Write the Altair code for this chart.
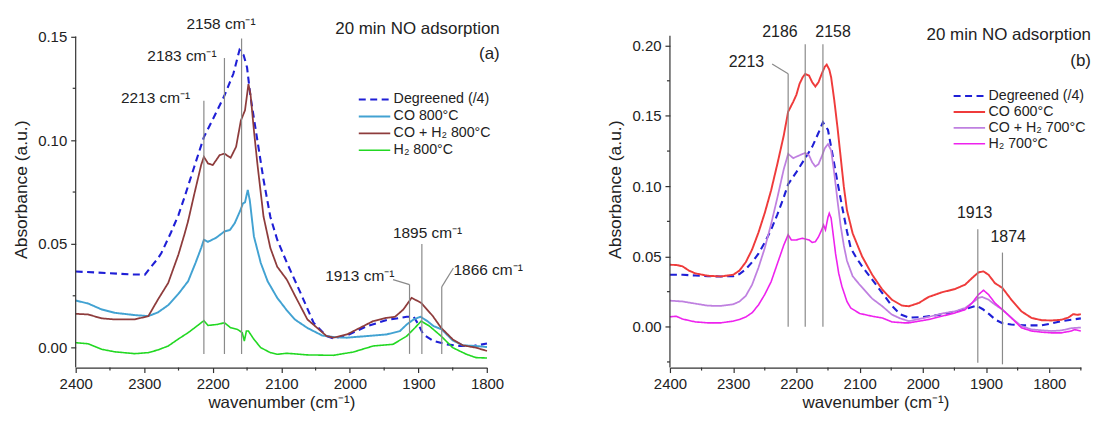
import altair as alt
import pandas as pd

FONT = "Liberation Sans"

# ---------------- Panel (a) data ----------------
series_a = ["Degreened (/4)", "CO 800°C", "CO + H₂ 800°C", "H₂ 800°C"]
colors_a = ["#1f1fd6", "#42a2d2", "#8e3c3c", "#22d822"]

deg_a_wn = [2400, 2350, 2320, 2299, 2290, 2280, 2275, 2261, 2250, 2241, 2227, 2213, 2200, 2183,
            2170, 2161, 2155, 2150, 2145, 2135, 2126, 2116, 2106, 2092, 2072, 2053, 2034, 2024,
            2004, 1975, 1946, 1917, 1907, 1900, 1893, 1878, 1859, 1840, 1820, 1800]
deg_a_ab = [0.0367, 0.0359, 0.0353, 0.0352, 0.039, 0.043, 0.0456, 0.0555, 0.064, 0.0728, 0.0872,
            0.1015, 0.110, 0.1215, 0.132, 0.1435, 0.141, 0.135, 0.121, 0.100, 0.081, 0.063, 0.052,
            0.041, 0.0264, 0.012, 0.0056, 0.0045, 0.0059, 0.0104, 0.0133, 0.0149, 0.0149, 0.0112,
            0.0064, 0.0032, 0.0016, 0.0008, 0.0008, 0.002]

co_a_wn = [2400, 2382, 2362, 2343, 2314, 2294, 2280, 2265, 2250, 2236, 2225, 2217, 2213, 2207,
           2195, 2183, 2175, 2168, 2160, 2156, 2153, 2149, 2146, 2140, 2130, 2120, 2106, 2092,
           2080, 2062, 2040, 2020, 2004, 1975, 1946, 1927, 1917, 1907, 1897, 1887, 1878, 1866,
           1850, 1835, 1816, 1800]
co_a_ab = [0.0227, 0.0213, 0.0184, 0.0168, 0.0157, 0.0152, 0.017, 0.0205, 0.026, 0.032, 0.041,
           0.048, 0.052, 0.051, 0.053, 0.056, 0.0567, 0.060, 0.066, 0.0695, 0.070, 0.076, 0.071,
           0.0536, 0.0408, 0.032, 0.024, 0.018, 0.0135, 0.0095, 0.0058, 0.005, 0.0048, 0.0056,
           0.0064, 0.008, 0.0112, 0.0136, 0.0149, 0.0128, 0.0104, 0.0088, 0.0035, 0.0011,
           0.0008, 0.0003]

coh_a_wn = [2400, 2382, 2362, 2343, 2314, 2294, 2280, 2265, 2250, 2241, 2236, 2227, 2217, 2213,
            2207, 2200, 2190, 2183, 2174, 2166, 2159, 2153, 2148, 2145, 2140, 2135, 2126, 2116,
            2106, 2092, 2080, 2062, 2034, 2024, 2004, 1985, 1966, 1946, 1934, 1922, 1910, 1896,
            1879, 1867, 1850, 1835, 1816, 1800]
coh_a_ab = [0.0163, 0.016, 0.0141, 0.0136, 0.0136, 0.0152, 0.0232, 0.0312, 0.045, 0.055, 0.061,
            0.074, 0.088, 0.092, 0.0888, 0.088, 0.0928, 0.0935, 0.0915, 0.0968, 0.1095, 0.1144,
            0.127, 0.1223, 0.1047, 0.0888, 0.0632, 0.048, 0.039, 0.0328, 0.025, 0.0136, 0.0056,
            0.0048, 0.0064, 0.0096, 0.0128, 0.0144, 0.0149, 0.0184, 0.024, 0.0216, 0.0152,
            0.0096, 0.004, 0.0011, 0.0, -0.0016]

h2_a_wn = [2400, 2382, 2362, 2343, 2314, 2294, 2280, 2265, 2251, 2236, 2222, 2213, 2207, 2193,
           2183, 2174, 2164, 2157, 2154, 2151, 2148, 2140, 2130, 2116, 2106, 2092, 2062, 2024,
           1995, 1966, 1956, 1937, 1917, 1905, 1896, 1884, 1867, 1850, 1830, 1816, 1800]
h2_a_ab = [0.0024, 0.0019, -0.0008, -0.002, -0.0029, -0.0024, -0.0011, 0.0008, 0.004, 0.0072,
           0.0107, 0.013, 0.0107, 0.0112, 0.012, 0.0096, 0.0088, 0.0072, 0.0032, 0.008, 0.008,
           0.004, 0.0, -0.0024, -0.0032, -0.0027, -0.0035, -0.0037, -0.0021, 0.0008, 0.0011,
           0.0016, 0.0056, 0.0096, 0.0128, 0.0104, 0.0056, 0.0, -0.0032, -0.0048, -0.005]

# annotations (a)
ann_a_wn = [2213, 2183, 2158, 1913, 1895, 1866]
ann_a_top = [0.119, 0.1396, 0.149, 0.0304, 0.050, 0.0293]
ann_a_bot = [-0.003, -0.003, -0.003, -0.003, -0.003, -0.003]
lead_a_x1 = [1937, 1866]
lead_a_y1 = [0.0328, 0.0293]
lead_a_x2 = [1913, 1849]
lead_a_y2 = [0.0304, 0.0384]
lab_a_text = ["2213 cm⁻¹", "2183 cm⁻¹", "2158 cm⁻¹", "1913 cm⁻¹", "1895 cm⁻¹", "1866 cm⁻¹"]
lab_a_wn = [2283.5, 2245, 2188, 1985.6, 1886.7, 1798.3]
lab_a_ab = [0.1204, 0.1404, 0.156, 0.0344, 0.0552, 0.0376]

# ---------------- Panel (b) data ----------------
series_b = ["Degreened (/4)", "CO 600°C", "CO + H₂ 700°C", "H₂ 700°C"]
colors_b = ["#1f1fd6", "#ef3b3b", "#bf80e0", "#ee22ee"]

deg_b_wn = [2400, 2380, 2360, 2340, 2320, 2300, 2290, 2280, 2270, 2260, 2250, 2240, 2230, 2220,
            2213, 2200, 2186, 2175, 2165, 2158, 2150, 2143, 2135, 2127, 2120, 2114, 2105, 2096,
            2080, 2064, 2049, 2036, 2022, 2000, 1975, 1950, 1930, 1915, 1905, 1895, 1885, 1874,
            1860, 1840, 1812, 1797, 1781, 1765, 1750]
deg_b_ab = [0.037, 0.037, 0.0365, 0.036, 0.0358, 0.036, 0.0375, 0.041, 0.046, 0.052, 0.060, 0.069,
            0.080, 0.092, 0.1015, 0.110, 0.120, 0.128, 0.138, 0.1455, 0.140, 0.123, 0.103, 0.084,
            0.068, 0.056, 0.049, 0.043, 0.0335, 0.024, 0.015, 0.009, 0.0065, 0.007, 0.0085,
            0.0105, 0.013, 0.015, 0.0125, 0.009, 0.005, 0.0025, 0.0016, 0.001, 0.001, 0.0023,
            0.004, 0.005, 0.006]

co_b_wn = [2400, 2390, 2380, 2370, 2360, 2340, 2320, 2300, 2290, 2280, 2270, 2260, 2250, 2240,
           2230, 2220, 2213, 2205, 2200, 2195, 2190, 2186, 2180, 2175, 2170, 2165, 2160, 2155,
           2152, 2148, 2145, 2140, 2135, 2130, 2125, 2120, 2111, 2096, 2080, 2064, 2049, 2033,
           2022, 2006, 1991, 1970, 1949, 1933, 1922, 1912, 1904, 1896, 1886, 1874, 1860, 1844,
           1828, 1812, 1797, 1781, 1770, 1762, 1755, 1750]
co_b_ab = [0.0441, 0.044, 0.043, 0.040, 0.038, 0.0363, 0.0358, 0.037, 0.040, 0.046, 0.055, 0.067,
           0.081, 0.097, 0.116, 0.136, 0.153, 0.160, 0.165, 0.1728, 0.1775, 0.1798, 0.1787, 0.174,
           0.1709, 0.174, 0.1798, 0.185, 0.1865, 0.183, 0.1775, 0.161, 0.142, 0.121, 0.100,
           0.083, 0.0665, 0.050, 0.037, 0.0264, 0.0193, 0.0151, 0.0146, 0.017, 0.0212, 0.0245,
           0.0269, 0.030, 0.0347, 0.0387, 0.0394, 0.037, 0.0311, 0.0276, 0.0193, 0.011, 0.0063,
           0.0047, 0.0045, 0.005, 0.0065, 0.009, 0.0085, 0.009]

coh_b_wn = [2400, 2380, 2360, 2340, 2320, 2300, 2290, 2280, 2270, 2260, 2250, 2240, 2230, 2220,
            2213, 2205, 2200, 2190, 2186, 2180, 2175, 2170, 2165, 2160, 2155, 2150, 2145, 2140,
            2135, 2130, 2125, 2120, 2111, 2100, 2080, 2064, 2049, 2036, 2022, 1991, 1970, 1949,
            1933, 1922, 1912, 1906, 1896, 1886, 1874, 1860, 1844, 1828, 1797, 1781, 1765, 1750]
coh_b_ab = [0.0186, 0.018, 0.0165, 0.015, 0.0149, 0.016, 0.018, 0.022, 0.030, 0.042, 0.056, 0.073,
            0.092, 0.112, 0.123, 0.120, 0.121, 0.123, 0.1237, 0.122, 0.117, 0.114, 0.1157, 0.121,
            0.127, 0.130, 0.1255, 0.109, 0.090, 0.072, 0.058, 0.047, 0.036, 0.030, 0.020, 0.0146,
            0.0087, 0.006, 0.004, 0.007, 0.0094, 0.011, 0.0134, 0.017, 0.0205, 0.0212, 0.0193,
            0.0158, 0.0122, 0.0064, 0.0005, -0.0019, -0.003, -0.0026, -0.001, -0.0005]

h2_b_wn = [2400, 2390, 2380, 2360, 2340, 2320, 2300, 2290, 2280, 2270, 2260, 2250, 2240, 2230,
           2220, 2213, 2208, 2200, 2190, 2186, 2180, 2175, 2170, 2165, 2160, 2157, 2154, 2150,
           2148, 2145, 2142, 2138, 2133, 2128, 2120, 2114, 2100, 2080, 2064, 2049, 2030, 2022,
           1991, 1970, 1949, 1933, 1922, 1912, 1904, 1896, 1886, 1874, 1860, 1844, 1828, 1812,
           1797, 1781, 1765, 1760, 1750]
h2_b_ab = [0.0071, 0.0075, 0.0055, 0.0035, 0.0028, 0.0028, 0.004, 0.0052, 0.007, 0.010, 0.0155,
           0.023, 0.032, 0.045, 0.058, 0.0655, 0.0618, 0.0618, 0.063, 0.0625, 0.0618, 0.060, 0.0605,
           0.064, 0.0689, 0.0724, 0.069, 0.078, 0.0807, 0.0772, 0.0665, 0.052, 0.038, 0.0288,
           0.018, 0.0134, 0.0095, 0.0075, 0.0063, 0.0035, 0.0028, 0.0028, 0.0052, 0.0075, 0.0099,
           0.0122, 0.017, 0.0229, 0.026, 0.0229, 0.017, 0.0122, 0.0064, -0.0007, -0.003, -0.0038,
           -0.0043, -0.0043, -0.003, -0.002, -0.003]

ann_b_wn = [2213, 2186, 2158, 1913, 1874]
ann_b_top = [0.180, 0.201, 0.201, 0.0694, 0.0528]
ann_b_bot = [0.0, 0.0, 0.0, -0.0255, -0.0267]
lead_b_x1 = [2238.4]
lead_b_y1 = [0.187]
lead_b_x2 = [2213]
lead_b_y2 = [0.180]
lab_b_text = ["2213", "2186", "2158", "1913", "1874"]
lab_b_wn = [2279, 2226, 2142, 1918, 1865]
lab_b_ab = [0.188, 0.2094, 0.2094, 0.0812, 0.0642]

x_ticks = [2400, 2300, 2200, 2100, 2000, 1900, 1800]
x_minor_a = [2350, 2250, 2150, 2050, 1950, 1850]
x_minor_b = [2350, 2250, 2150, 2050, 1950, 1850, 1750]
y_ticks_a = [0.0, 0.05, 0.10, 0.15]
y_minor_a = [0.025, 0.075, 0.125]
y_ticks_b = [0.0, 0.05, 0.10, 0.15, 0.20]
y_minor_b = [-0.025, 0.025, 0.075, 0.125, 0.175]

AXIS_C = "#333333"
ANN_C = "#8a8a8a"


def spectra_df(series, wns, abss):
    rows = []
    for s, w, a in zip(series, wns, abss):
        for wi, ai in zip(w, a):
            rows.append({"series": s, "wn": wi, "ab": ai})
    return pd.DataFrame(rows)


def panel(series, colors, wns, abss, xdom, ydom, yaxis_top, W, H, yticks, yminor, xminor,
          ann_wn, ann_top, ann_bot, lx1, ly1, lx2, ly2, lab_text, lab_wn, lab_ab, lab_size,
          title_text, tag, title_x, title_y, tag_y, leg_x1, leg_x2, leg_tx, leg_y0, leg_y1):
    xs = alt.Scale(domain=xdom, nice=False, zero=False)
    ys = alt.Scale(domain=ydom, nice=False, zero=False)
    df = spectra_df(series, wns, abss)
    cscale = alt.Scale(domain=series, range=colors)
    dscale = alt.Scale(domain=series, range=[[7, 4.5], [1, 0], [1, 0], [1, 0]])
    wscale = alt.Scale(domain=series, range=[2.1, 1.6, 1.6, 1.8])

    lines = alt.Chart(df).mark_line(strokeCap="butt").encode(
        x=alt.X("wn:Q", scale=xs, axis=alt.Axis(
            values=x_ticks, format="d", title="wavenumber (cm⁻¹)", grid=False,
            tickSize=5, tickColor=AXIS_C, domainColor=AXIS_C, domainWidth=1.2, tickWidth=1.2,
            labelFontSize=15, labelPadding=4, titleFontSize=17, titleFontWeight="normal",
            titlePadding=3, labelColor="#222", titleColor="#222", labelFlush=False)),
        y=alt.Y("ab:Q", scale=ys, axis=alt.Axis(
            values=yticks, format=".2f", title="Absorbance (a.u.)", grid=False, domain=False,
            tickSize=5, tickColor=AXIS_C, tickWidth=1.2, labelFontSize=15, labelPadding=4,
            titleFontSize=17.5, titleFontWeight="normal", titlePadding=7,
            labelColor="#222", titleColor="#222")),
        color=alt.Color("series:N", scale=cscale, legend=None),
        strokeDash=alt.StrokeDash("series:N", scale=dscale, legend=None),
        strokeWidth=alt.StrokeWidth("series:N", scale=wscale, legend=None),
        detail="series:N",
    )

    yline = alt.Chart(pd.DataFrame({"y0": [ydom[0]], "y1": [yaxis_top]})).mark_rule(
        color=AXIS_C, strokeWidth=1.2).encode(
        x=alt.value(0), y=alt.Y("y0:Q", scale=ys, axis=None), y2="y1:Q")
    ymin = alt.Chart(pd.DataFrame({"v": yminor})).mark_rule(
        color=AXIS_C, strokeWidth=1.2).encode(
        x=alt.value(-3), x2=alt.value(0), y=alt.Y("v:Q", scale=ys, axis=None))
    xmin = alt.Chart(pd.DataFrame({"v": xminor})).mark_rule(
        color=AXIS_C, strokeWidth=1.2).encode(
        x=alt.X("v:Q", scale=xs, axis=None), y=alt.value(H), y2=alt.value(H + 3))

    ann = alt.Chart(pd.DataFrame({"w": ann_wn, "t": ann_top, "b": ann_bot})).mark_rule(
        color=ANN_C, strokeWidth=1.2).encode(
        x=alt.X("w:Q", scale=xs, axis=None), y=alt.Y("t:Q", scale=ys, axis=None), y2="b:Q")
    lead = alt.Chart(pd.DataFrame({"x1": lx1, "y1": ly1, "x2": lx2, "y2": ly2})).mark_rule(
        color=ANN_C, strokeWidth=1.2).encode(
        x=alt.X("x1:Q", scale=xs, axis=None), x2="x2:Q",
        y=alt.Y("y1:Q", scale=ys, axis=None), y2="y2:Q")
    labs = alt.Chart(pd.DataFrame({"txt": lab_text, "w": lab_wn, "a": lab_ab})).mark_text(
        fontSize=lab_size, color="#222", align="center", baseline="middle", font=FONT).encode(
        x=alt.X("w:Q", scale=xs, axis=None), y=alt.Y("a:Q", scale=ys, axis=None), text="txt:N")

    ttl = alt.Chart(pd.DataFrame({"txt": [title_text, tag], "yy": [title_y, tag_y]})).mark_text(
        fontSize=17, color="#222", align="right", baseline="middle", font=FONT).encode(
        x=alt.value(title_x), y=alt.Y("yy:Q", scale=alt.Scale(domain=[0, H], range=[0, H]),
                                       axis=None), text="txt:N")

    leg_df = pd.DataFrame({"series": series, "row": list(range(len(series)))})
    lrow = alt.Scale(domain=[0, len(series) - 1], range=[leg_y0, leg_y1])
    leg_lines = alt.Chart(leg_df).mark_rule(strokeCap="butt").encode(
        x=alt.value(leg_x1), x2=alt.value(leg_x2),
        y=alt.Y("row:Q", scale=lrow, axis=None),
        color=alt.Color("series:N", scale=cscale, legend=None),
        strokeDash=alt.StrokeDash("series:N", scale=dscale, legend=None),
        strokeWidth=alt.StrokeWidth("series:N", scale=wscale, legend=None))
    leg_text = alt.Chart(leg_df).mark_text(
        fontSize=14.3, color="#222", align="left", baseline="middle", font=FONT).encode(
        x=alt.value(leg_tx), y=alt.Y("row:Q", scale=lrow, axis=None), text="series:N")

    return alt.layer(lines, yline, ymin, xmin, ann, lead, labs, ttl, leg_lines, leg_text).resolve_scale(
        x="independent", y="independent").properties(width=W, height=H)


H = 358.3
pa = panel(series_a, colors_a, [deg_a_wn, co_a_wn, coh_a_wn, h2_a_wn],
           [deg_a_ab, co_a_ab, coh_a_ab, h2_a_ab], [2400, 1800], [-0.0096, 0.1623], 0.15,
           413.2, H, y_ticks_a, y_minor_a, x_minor_a,
           ann_a_wn, ann_a_top, ann_a_bot, lead_a_x1, lead_a_y1, lead_a_x2, lead_a_y2,
           lab_a_text, lab_a_wn, lab_a_ab, 15.5,
           "20 min NO adsorption", "(a)", 426, 18.3, 43.3, 284.4, 316, 319.4, 89, 140)

pb = panel(series_b, colors_b, [deg_b_wn, co_b_wn, coh_b_wn, h2_b_wn],
           [deg_b_ab, co_b_ab, coh_b_ab, h2_b_ab], [2400, 1750], [-0.029, 0.2247], 0.207,
           412.8, H, y_ticks_b, y_minor_b, x_minor_b,
           ann_b_wn, ann_b_top, ann_b_bot, lead_b_x1, lead_b_y1, lead_b_x2, lead_b_y2,
           lab_b_text, lab_b_wn, lab_b_ab, 16,
           "20 min NO adsorption", "(b)", 423, 24, 50, 285, 316.6, 320, 85.5, 133.5)

chart = alt.hconcat(pa, pb, spacing=83).resolve_scale(
    color="independent", strokeDash="independent", strokeWidth="independent",
    x="independent", y="independent"
).properties(
    padding={"left": 4, "top": 2, "right": 0, "bottom": 0}
).configure(font=FONT).configure_view(stroke=None)

chart.save("out.html", embed_options={"renderer": "svg", "actions": False})
